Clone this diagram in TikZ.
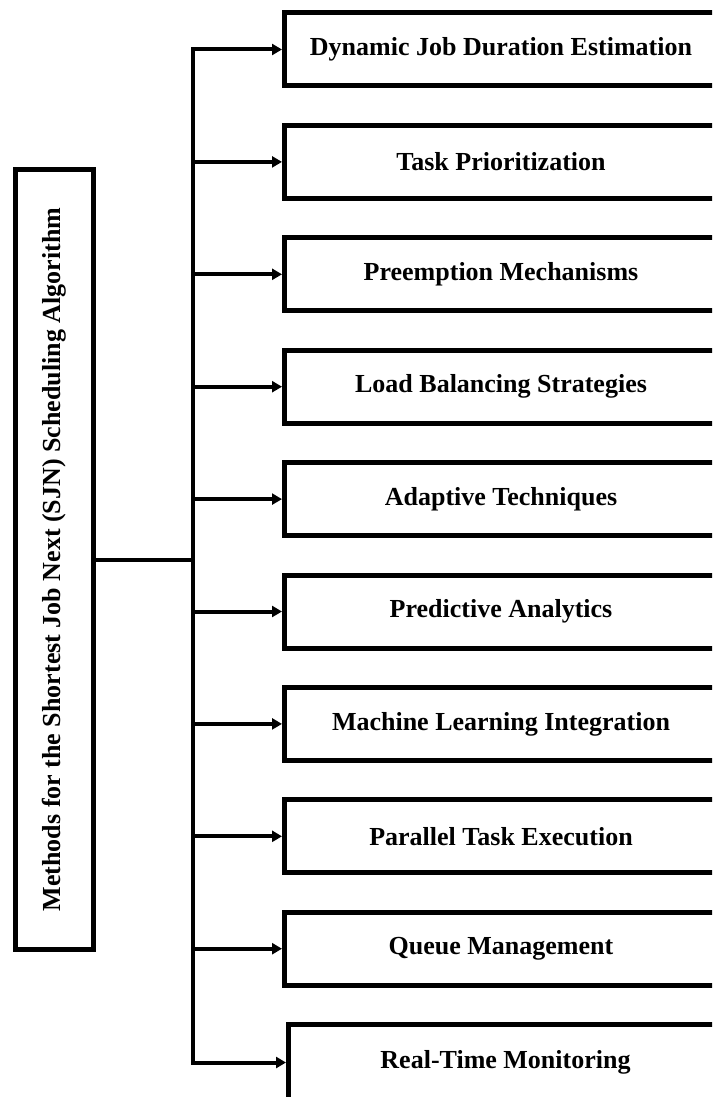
\documentclass[tikz,border=0pt]{standalone}
\usepackage{fontspec}
\setmainfont{Liberation Serif}
\usetikzlibrary{arrows.meta}

\begin{document}
\begin{tikzpicture}[x=1pt, y=-1pt, >={Triangle[length=10pt,width=11pt]},
    every node/.style={font=\fontsize{26}{30}\selectfont\bfseries},
    method/.style={draw, line width=5pt, minimum width=433pt, minimum height=73pt, inner sep=0pt},
    rootbox/.style={draw, line width=5pt, rotate=90, minimum width=780pt, minimum height=78pt, inner sep=0pt},
    link/.style={line width=4pt}]
  \useasboundingbox (0,0) rectangle (712,1097);
  \clip (0,0) rectangle (712,1097);

  \node[rootbox] (root) at (54.5,559.5) {Methods for the Shortest Job Next (SJN) Scheduling Algorithm};

  \foreach \t [count=\i] in {Dynamic Job Duration Estimation, Task Prioritization,
      Preemption Mechanisms, Load Balancing Strategies, Adaptive Techniques,
      Predictive Analytics, Machine Learning Integration, Parallel Task Execution,
      Queue Management}
    \node[method] (m\i) at (501,{49.5+112.4*(\i-1)}) {\t};
  \node[method, minimum width=434pt, minimum height=76pt] (m10) at (505.5,1062.5) {Real-Time Monitoring};

  % trunk and branches
  \coordinate (jn) at (193,559.5);
  \draw[link] (root.south) -- (root.south -| jn);
  \draw[link, line cap=rect] (m1.west -| jn) -- (m10.west -| jn);
  \foreach \i in {1,...,10}
    \draw[link, ->] (m\i.west -| jn) -- (m\i.west);
\end{tikzpicture}
\end{document}
